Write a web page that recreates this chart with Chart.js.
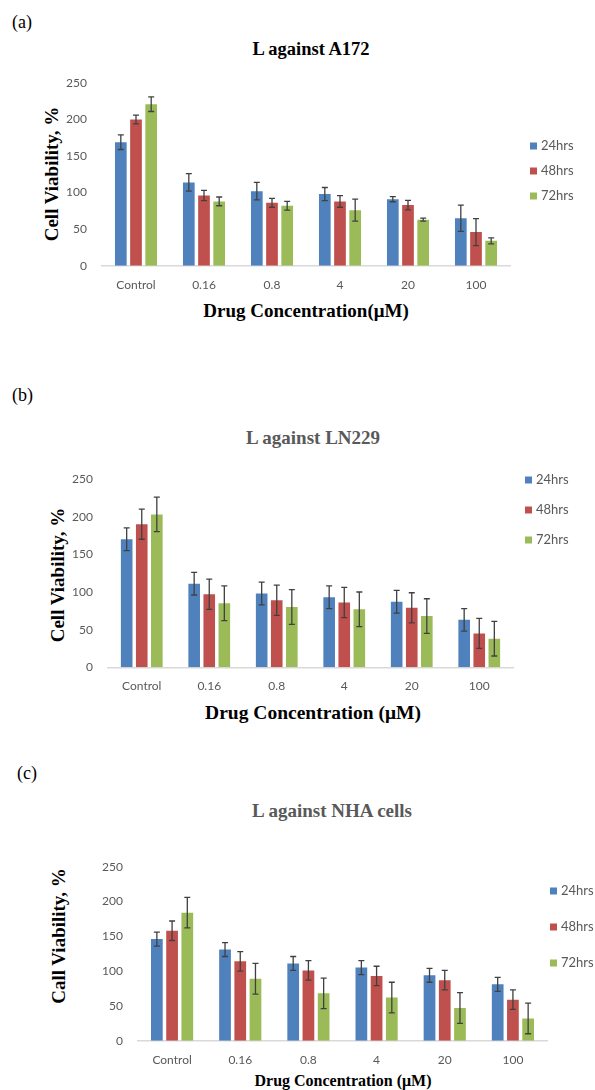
<!DOCTYPE html>
<html>
<head>
<meta charset="utf-8">
<script src="https://cdn.jsdelivr.net/npm/chart.js@4.4.1/dist/chart.umd.min.js"></script>
<style>
  html, body { margin: 0; padding: 0; background: #ffffff; }
  body { position: relative; width: 595px; height: 1090px; overflow: hidden; }
  canvas { position: absolute; left: 0; }
  .txt { position: absolute; white-space: nowrap; transform: translate(-50%, -50%); line-height: 1; }
  .serif { font-family: "Liberation Serif", "Times New Roman", serif; }
  .bold { font-weight: bold; }
  .panel { position: absolute; font-family: "Liberation Serif", serif; font-size: 18px; color: #000; transform: translateY(-50%); line-height: 1; }
  .ytitle { transform: translate(-50%, -50%) rotate(-90deg); }
  .leg { position: absolute; font-family: Lato, sans-serif; font-size: 13px; color: #595959; transform: translateY(-50%); line-height: 1; white-space: nowrap; }
  .leg i { display: inline-block; width: 7px; height: 7px; margin-right: 4px; vertical-align: 0px; }
</style>
</head>
<body>

<div class="panel" style="left:12px; top:22px;">(a)</div>
<div class="txt serif bold" style="left:311px; top:49px; font-size:18.5px; color:#000;">L against A172</div>
<div class="txt serif bold ytitle" style="left:51px; top:174px; font-size:19px; color:#000;">Cell Viability, %</div>
<div class="txt serif bold" style="left:306px; top:310px; font-size:19px; color:#000;">Drug Concentration(μM)</div>

<div class="panel" style="left:12px; top:395px;">(b)</div>
<div class="txt serif bold" style="left:313px; top:437px; font-size:19px; color:#595959;">L against LN229</div>
<div class="txt serif bold ytitle" style="left:57px; top:575px; font-size:19px; color:#000;">Cell Viability, %</div>
<div class="txt serif bold" style="left:313px; top:713px; font-size:19.5px; color:#000;">Drug Concentration (μM)</div>

<div class="panel" style="left:17px; top:773px;">(c)</div>
<div class="txt serif bold" style="left:332px; top:810px; font-size:19px; color:#595959;">L against NHA cells</div>
<div class="txt serif bold ytitle" style="left:58px; top:936px; font-size:19px; color:#000;">Call Viability, %</div>
<div class="txt serif bold" style="left:343px; top:1081px; font-size:16px; color:#000;">Drug Concentration (μM)</div>

<canvas id="chartA" width="595" height="340" style="top:0px;"></canvas>
<canvas id="chartB" width="595" height="370" style="top:350px;"></canvas>
<canvas id="chartC" width="595" height="365" style="top:725px;"></canvas>

<div id="legA"></div>
<div id="legB"></div>
<div id="legC"></div>

<script>
// Drug concentrations on the x axis
const concentrations = ['Control', '0.16', '0.8', '4', '20', '100'];
const seriesNames = ['24hrs', '48hrs', '72hrs'];
const yTicks = [0, 50, 100, 150, 200, 250];

// (a) A172 cell viability, % (mean and error)
const a172_24h = [169, 114, 102, 98, 91, 65];
const a172_48h = [200, 96, 86, 88, 83, 46];
const a172_72h = [221, 88, 82, 76, 63, 34];
const a172_err24 = [10, 12, 12, 9, 3.5, 18];
const a172_err48 = [6, 7, 6, 8, 6.5, 18.5];
const a172_err72 = [10, 6, 6, 15, 2, 4];

// (b) LN229 cell viability, %
const ln229_24h = [170, 111, 98, 93, 87, 63];
const ln229_48h = [190, 97, 89, 86, 79, 45];
const ln229_72h = [203, 85, 80, 77, 68, 38];
const ln229_err24 = [15, 15, 15, 15, 15, 15];
const ln229_err48 = [20, 20, 20, 20, 20, 20];
const ln229_err72 = [23, 23, 23, 23, 23, 23];

// (c) NHA cell viability, %
const nha_24h = [146, 131, 111, 105, 94, 81];
const nha_48h = [158, 114, 101, 93, 87, 59];
const nha_72h = [184, 89, 68, 62, 47, 32];
const nha_err24 = [10, 10, 10, 10, 10, 10];
const nha_err48 = [14, 14, 14, 14, 14, 14];
const nha_err72 = [22, 22, 22, 22, 22, 22];

const colors = ['#4F81BD', '#C0504D', '#9BBB59'];

// Vertical error bars with caps, placed through the chart's own scales
const errorBarPlugin = {
  id: 'errorBars',
  afterDatasetsDraw(chart, args, opts) {
    const ctx = chart.ctx;
    const y = chart.scales.y;
    ctx.save();
    ctx.strokeStyle = opts.color || '#404040';
    ctx.lineWidth = opts.lineWidth || 1.3;
    chart.data.datasets.forEach((ds, d) => {
      const meta = chart.getDatasetMeta(d);
      meta.data.forEach((bar, i) => {
        const v = ds.data[i];
        const e = opts.errors[d][i];
        const top = y.getPixelForValue(v + e);
        const bot = y.getPixelForValue(v - e);
        const cap = opts.capWidth || 3;
        ctx.beginPath();
        ctx.moveTo(bar.x, top); ctx.lineTo(bar.x, bot);
        ctx.moveTo(bar.x - cap, top); ctx.lineTo(bar.x + cap, top);
        ctx.moveTo(bar.x - cap, bot); ctx.lineTo(bar.x + cap, bot);
        ctx.stroke();
      });
    });
    ctx.restore();
  }
};

function makeChart(id, canvasTop, canvasH, area, series, errors) {
  const xAxisH = 30;
  const tickFont = { family: 'Lato', size: 12 };
  return new Chart(document.getElementById(id), {
    type: 'bar',
    data: {
      labels: concentrations,
      datasets: series.map((vals, k) => ({
        label: seriesNames[k],
        data: vals,
        backgroundColor: colors[k],
        categoryPercentage: 0.67,
        barPercentage: 0.77
      }))
    },
    options: {
      responsive: false,
      animation: false,
      events: [],
      layout: {
        padding: {
          left: 0,
          top: area.top - canvasTop,
          right: 595 - area.right,
          bottom: canvasH - (area.bottom - canvasTop) - xAxisH
        }
      },
      plugins: {
        legend: { display: false },
        tooltip: { enabled: false },
        errorBars: { errors: errors, color: '#404040', lineWidth: 1.3, capWidth: 3 }
      },
      scales: {
        x: {
          grid: { display: false, drawTicks: false },
          border: { display: true, color: '#d9d9d9', width: 1.5 },
          ticks: { font: tickFont, color: '#595959', padding: 12 },
          afterFit: s => { s.height = xAxisH; }
        },
        y: {
          min: 0,
          max: 250,
          afterBuildTicks: s => { s.ticks = yTicks.map(v => ({ value: v })); },
          grid: { display: false, drawTicks: false },
          border: { display: false },
          ticks: { font: tickFont, color: '#595959', padding: 15 },
          afterFit: s => { s.width = area.left; }
        }
      }
    },
    plugins: [errorBarPlugin]
  });
}

function makeLegend(id, x, ys) {
  const host = document.getElementById(id);
  seriesNames.forEach((name, k) => {
    const el = document.createElement('div');
    el.className = 'leg';
    el.style.left = x + 'px';
    el.style.top = ys[k] + 'px';
    el.innerHTML = '<i style="background:' + colors[k] + '"></i>' + name;
    host.appendChild(el);
  });
}

makeChart('chartA', 0, 340, { left: 102, right: 510, top: 83, bottom: 265.7 },
  [a172_24h, a172_48h, a172_72h], [a172_err24, a172_err48, a172_err72]);
makeChart('chartB', 350, 370, { left: 108, right: 513, top: 479, bottom: 667.3 },
  [ln229_24h, ln229_48h, ln229_72h], [ln229_err24, ln229_err48, ln229_err72]);
makeChart('chartC', 725, 365, { left: 138, right: 547, top: 866.7, bottom: 1040.7 },
  [nha_24h, nha_48h, nha_72h], [nha_err24, nha_err48, nha_err72]);

makeLegend('legA', 530, [145, 170, 195]);
makeLegend('legB', 525, [479, 509, 539]);
makeLegend('legC', 550, [890, 926, 962]);
</script>
</body>
</html>
